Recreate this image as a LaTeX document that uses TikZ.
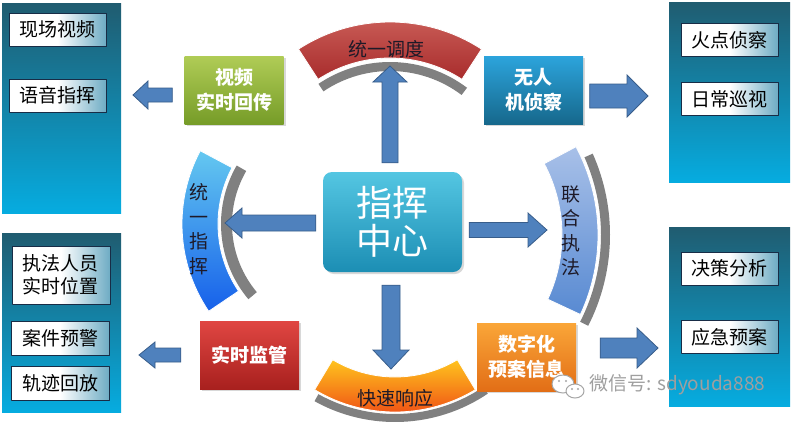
\documentclass[tikz,border=0pt]{standalone}
\usepackage{fontspec}
\setmainfont{Noto Sans CJK SC}
\usepackage{tikz}
\usetikzlibrary{calc,shadows}
\definecolor{paneltop}{RGB}{32,92,112}
\definecolor{panelbot}{RGB}{6,172,224}
\definecolor{itemline}{RGB}{24,44,70}
\definecolor{itemteal}{RGB}{110,172,196}
\definecolor{arrowfill}{RGB}{79,129,189}
\definecolor{arrowline}{RGB}{56,93,138}
\definecolor{grassA}{RGB}{176,204,86}
\definecolor{grassB}{RGB}{118,156,40}
\definecolor{skyA}{RGB}{44,164,220}
\definecolor{skyB}{RGB}{22,104,140}
\definecolor{brickA}{RGB}{224,70,66}
\definecolor{brickB}{RGB}{168,32,30}
\definecolor{amberA}{RGB}{250,166,56}
\definecolor{amberB}{RGB}{226,110,22}
\definecolor{hubA}{RGB}{84,198,226}
\definecolor{hubB}{RGB}{28,142,180}
\definecolor{redarcA}{RGB}{204,96,90}
\definecolor{redarcB}{RGB}{168,44,44}
\definecolor{bluarcA}{RGB}{100,200,240}
\definecolor{bluarcB}{RGB}{22,96,234}
\definecolor{palearcA}{RGB}{168,192,232}
\definecolor{palearcB}{RGB}{88,138,210}
\definecolor{orarcA}{RGB}{255,196,30}
\definecolor{orarcB}{RGB}{238,70,20}
\definecolor{arcgray}{RGB}{128,128,128}
\definecolor{arcink}{RGB}{30,26,40}

\begin{document}
\begin{tikzpicture}[x=1pt,y=-1pt,line join=round,
  panel/.style={top color=paneltop,bottom color=panelbot,inner sep=0pt},
  item/.style={draw=itemline,line width=0.8pt,left color=white,right color=itemteal,middle color=white,minimum width=97pt,minimum height=33pt,inner sep=0pt,text=black,font=\fontsize{19}{23}\selectfont,align=center},
  tile/.style={minimum width=99pt,minimum height=68pt,inner sep=0pt,align=center,text=white,font=\bfseries\fontsize{19}{25}\selectfont,drop shadow={shadow xshift=2pt,shadow yshift=-2pt,opacity=0.3}},
  blockarr/.style={fill=arrowfill,draw=arrowline,line width=0.8pt,line join=miter},
  arctext/.style={text=arcink,font=\fontsize{19}{24.5}\selectfont,align=center}]
  \fill[white] (0,0) rectangle (792,424);
  \useasboundingbox (0,0) rectangle (792,424);
  % the four side panels and what they list
  \node[panel,minimum width=119pt,minimum height=210pt] (tl) at (61.5,108) {};
  \node[panel,minimum width=121pt,minimum height=180pt] (tr) at (729.5,92) {};
  \node[panel,minimum width=119pt,minimum height=179pt] (bl) at (61.5,322.5) {};
  \node[panel,minimum width=121pt,minimum height=179pt] (br) at (729.5,316.5) {};
  \node[item] (live) at (57.5,29.5) {现场视频};
  \node[item] (voice) at (57.5,95.5) {语音指挥};
  \node[item] (fire) at (729.5,40) {火点侦察};
  \node[item] (patrol) at (729.5,99) {日常巡视};
  \node[item,minimum width=98pt,minimum height=58pt] (staff) at (61,275) {执法人员\\实时位置};
  \node[item,minimum width=98pt,minimum height=34pt] (alarm) at (60,338.5) {案件预警};
  \node[item,minimum width=98pt,minimum height=34pt] (track) at (60,383) {轨迹回放};
  \node[item] (decide) at (729.5,268.5) {决策分析};
  \node[item] (urgent) at (729.5,337) {应急预案};
  % ring of four arcs with their grey shadows
  \foreach \cx/\cy/\ro/\ri/\aa/\ab in {390/190/128/119/-124/-53,338/224/117/106/140/210,410/235/200/191/-24/27,395/256/166/158/56/119}
    \fill[arcgray] ($(\cx,\cy)+(\aa:\ro)$) arc[start angle=\aa,end angle=\ab,radius=\ro] -- ($(\cx,\cy)+(\ab:\ri)$) arc[start angle=\ab,end angle=\aa,radius=\ri] -- cycle;
  \foreach \cx/\cy/\ro/\ri/\aa/\ab/\ca/\cb in {390/190/168/132/-123/-57/redarcA/redarcB,338/224/156/120/146/208/bluarcA/bluarcB,410/235/188/152/-28/25/palearcA/palearcB,395/256/156/121/59/121/orarcA/orarcB}
    \path[draw=white,line width=0.8pt,top color=\ca,bottom color=\cb] ($(\cx,\cy)+(\aa:\ro)$) arc[start angle=\aa,end angle=\ab,radius=\ro] -- ($(\cx,\cy)+(\ab:\ri)$) arc[start angle=\ab,end angle=\aa,radius=\ri] -- cycle;
  \node[arctext] (dispatch) at (386,49) {统一调度};
  \node[arctext] (command) at (199,229) {统\\一\\指\\挥};
  \node[arctext] (joint) at (571,231) {联\\合\\执\\法};
  \node[arctext] (respond) at (395,398) {快速响应};
  % tiles round the hub
  \node[tile,top color=grassA,bottom color=grassB] (video) at (234,90) {视频\\实时回传};
  \node[tile,top color=skyA,bottom color=skyB] (drone) at (533.5,90) {无人\\机侦察};
  \node[tile,top color=brickA,bottom color=brickB] (monitor) at (249.5,355) {实时监管};
  \node[tile,top color=amberA,bottom color=amberB] (plan) at (526.5,357) {数字化\\预案信息};
  \node[tile,minimum width=139pt,minimum height=100pt,rounded corners=9pt,top color=hubA,bottom color=hubB,font=\fontsize{36}{38}\selectfont] (hub) at (392.5,222) {指挥\\中心};
  % block arrows: tail at a node, tip at a coordinate
  \coordinate (n-t) at ($(hub.north)+(-2.5,-9)$);  \coordinate (n-h) at (390,66);
  \coordinate (s-t) at ($(hub.south)+(-1.5,13)$);  \coordinate (s-h) at (391,369);
  \coordinate (w-t) at ($(hub.west)+(-7,1)$);      \coordinate (w-h) at (225,223);
  \coordinate (e-t) at ($(hub.east)+(7,8)$);       \coordinate (e-h) at (547,230);
  \coordinate (v-t) at ($(video.west)+(-12,5)$);   \coordinate (v-h) at (133,95);
  \coordinate (d-t) at ($(drone.east)+(6.5,6)$);   \coordinate (d-h) at (648,96);
  \coordinate (m-t) at ($(monitor.west)+(-19,0)$); \coordinate (m-h) at (139,355);
  \coordinate (p-t) at ($(plan.east)+(24,-9)$);    \coordinate (p-h) at (658,348);
  \foreach \ta/\tb/\sw/\hw/\hl in {n-t/n-h/8pt/17pt/16pt,s-t/s-h/9pt/18pt/19pt,w-t/w-h/8pt/15pt/17pt,e-t/e-h/7.5pt/17pt/19pt,v-t/v-h/7pt/14pt/15pt,d-t/d-h/12pt/21pt/21pt,m-t/m-h/7pt/13pt/16pt,p-t/p-h/10pt/20pt/21pt}{
    \coordinate (base) at ($(\tb)!\hl!(\ta)$);
    \draw[blockarr] ($(\ta)!\sw!90:(\tb)$) -- ($(base)!\sw!90:(\tb)$) -- ($(base)!\hw!90:(\tb)$) -- (\tb) -- ($(base)!\hw!-90:(\tb)$) -- ($(base)!\sw!-90:(\tb)$) -- ($(\ta)!\sw!-90:(\tb)$) -- cycle;
  }
  % watermark
  \draw[gray!70,fill=white,line width=1pt] (563,384) ellipse[x radius=11,y radius=9];
  \draw[gray!70,fill=white,line width=1pt] (575,391) ellipse[x radius=9,y radius=7];
  \foreach \e in {(559,381),(566,381),(572,389),(578,389)}{\fill[gray!70] \e circle (1.2pt);}
  \node[anchor=west,text=gray!75,font=\fontsize{19}{22}\selectfont] (wm) at (586,385) {微信号: sdyouda888};
\end{tikzpicture}
\end{document}
